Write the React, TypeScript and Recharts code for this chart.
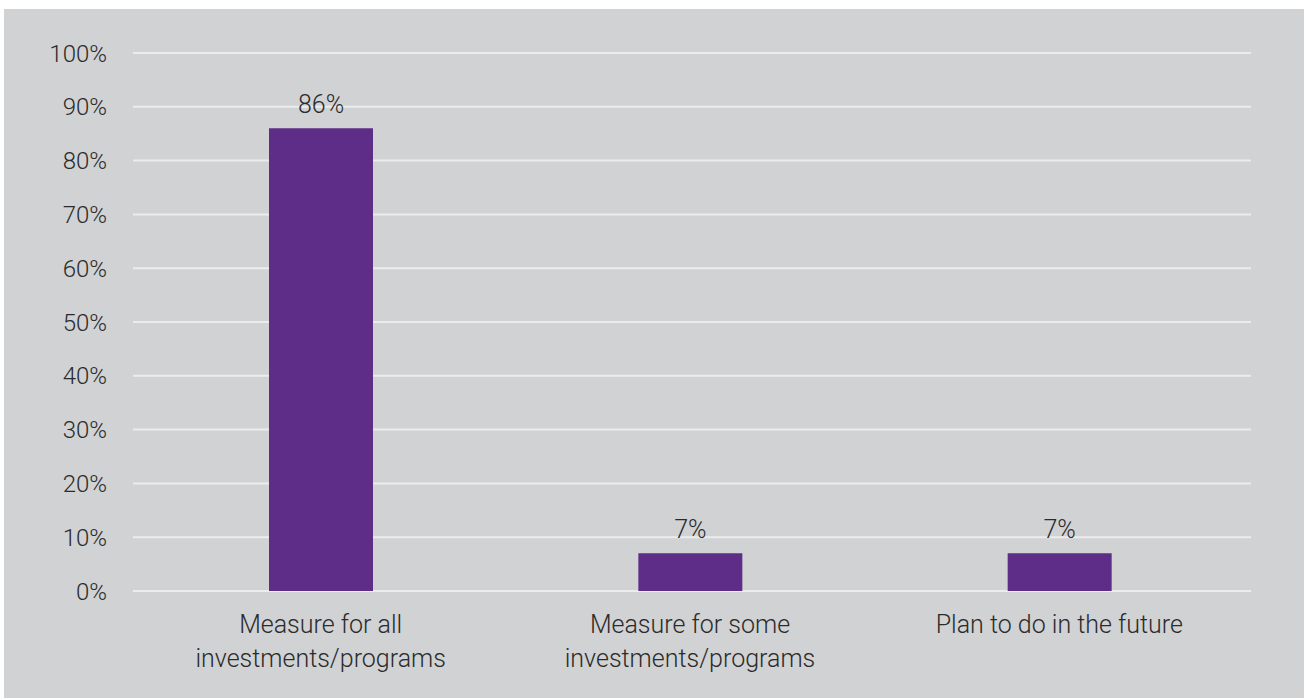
import React from "react";
import { BarChart, Bar, XAxis, YAxis, CartesianGrid, LabelList } from "recharts";

const categories = [
  "Measure for all\ninvestments/programs",
  "Measure for some\ninvestments/programs",
  "Plan to do in the future",
];
const values = [86, 7, 7];
const yTicks = [0, 10, 20, 30, 40, 50, 60, 70, 80, 90, 100];

const data = categories.map((c, i) => ({ name: c, value: values[i] }));

const FONT = "Roboto, 'Noto Sans', sans-serif";
const TEXT = "#2b2b2b";

const XTick = (props: any) => {
  const { x, y, payload } = props;
  const lines = String(payload.value).split("\n");
  return (
    <text x={x} y={y} textAnchor="middle" fill={TEXT} fontFamily={FONT} fontWeight={300} fontSize={25}>
      {lines.map((l, i) => (
        <tspan key={i} x={x} dy={i === 0 ? 34 : 34}>
          {l}
        </tspan>
      ))}
    </text>
  );
};

export default function App() {
  return (
    <div style={{ position: "absolute", left: 0, top: 0, width: 1306, height: 698, background: "#ffffff", overflow: "hidden" }}>
      <div style={{ position: "absolute", left: 4, top: 9, width: 1300, height: 689, background: "#d1d2d4" }} />
      <div style={{ position: "absolute", left: 0, top: 0 }}>
        <BarChart width={1306} height={698} data={data} margin={{ top: 53, right: 55, bottom: 27, left: 0 }}>
          <CartesianGrid vertical={false} stroke="#ececec" strokeWidth={2} />
          <XAxis
            dataKey="name"
            axisLine={false}
            tickLine={false}
            interval={0}
            height={80}
            padding={{ left: 3, right: 7 }}
            tick={<XTick />}
          />
          <YAxis
            domain={[0, 100]}
            ticks={yTicks}
            axisLine={false}
            tickLine={false}
            tickSize={0}
            tickMargin={26}
            width={133}
            interval={0}
            tickFormatter={(v: number) => `${v}%`}
            tick={{ fill: TEXT, fontFamily: FONT, fontWeight: 300, fontSize: 24 }}
          />
          <Bar dataKey="value" fill="#5e2d87" barSize={104} isAnimationActive={false}>
            <LabelList
              dataKey="value"
              position="top"
              offset={15}
              formatter={(v: any) => `${v}%`}
              style={{ fill: TEXT, fontFamily: FONT, fontWeight: 300, fontSize: 25 }}
            />
          </Bar>
        </BarChart>
      </div>
    </div>
  );
}
